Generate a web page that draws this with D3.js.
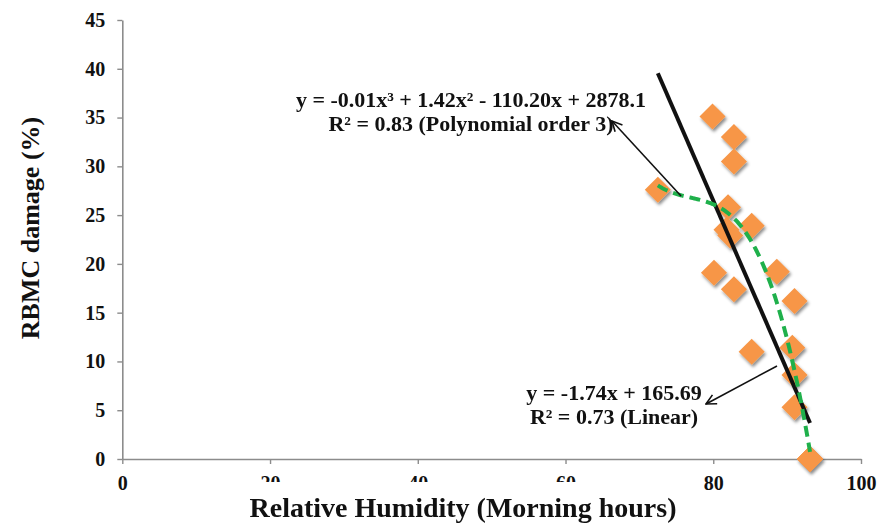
<!DOCTYPE html>
<html lang="en">
<head>
<meta charset="utf-8">
<title>RBMC damage vs RH</title>
<script src="https://cdn.jsdelivr.net/npm/d3@7"></script>
<style>
  body { margin: 0; background: #fff; overflow: hidden; }
  text { font-family: "Liberation Serif", "Times New Roman", serif; font-weight: bold; fill: #111; }
</style>
</head>
<body>
<div id="chart"></div>
<script>
// relative humidity (morning hours) and RBMC damage (%)
// (several zero-damage readings sit on top of each other at ~93 %)
var humidity = [72.5, 79.9, 82.8, 82.8, 82.0, 81.8, 82.3, 85.2, 80.1, 82.8, 88.6, 91.0, 85.2, 90.7, 91.0, 91.0, 93.1, 93.1, 93.1, 93.1];
var damage   = [27.6, 35.1, 33.0, 30.5, 25.8, 23.5, 22.9, 23.9, 19.1, 17.4, 19.2, 16.2, 11.0, 11.4,  8.6,  5.3,  0.0,  0.0,  0.0,  0.0];

var xTicks = [0, 20, 40, 60, 80, 100];
var yTicks = [0, 5, 10, 15, 20, 25, 30, 35, 40, 45];
var hiddenXTicks = [20, 40, 60];   // these labels are cut off in the original

var linSlope = -1.74, linIntercept = 165.69;
var polyLabel = ["y = -0.01x\u00B3 + 1.42x\u00B2 - 110.20x + 2878.1", "R\u00B2 = 0.83 (Polynomial order 3)"];
var linLabel  = ["y = -1.74x + 165.69", "R\u00B2 = 0.73 (Linear)"];

var W = 881, H = 528;
var svg = d3.select("#chart").append("svg")
    .attr("width", W)
    .attr("height", H);

var defs = svg.append("defs");
var f = defs.append("filter").attr("id", "shadow")
    .attr("x", "-50%").attr("y", "-50%").attr("width", "200%").attr("height", "200%");
f.append("feDropShadow")
    .attr("dx", 1.5).attr("dy", 2.5).attr("stdDeviation", 1.6)
    .attr("flood-color", "#000").attr("flood-opacity", 0.45);

defs.append("marker")
    .attr("id", "arrow")
    .attr("viewBox", "0 0 12 12")
    .attr("refX", 11).attr("refY", 6)
    .attr("markerWidth", 12).attr("markerHeight", 12)
    .attr("markerUnits", "userSpaceOnUse")
    .attr("orient", "auto")
  .append("path")
    .attr("d", "M1,1 L11,6 L1,11")
    .attr("fill", "none")
    .attr("stroke", "#111")
    .attr("stroke-width", 1.6);

var x = d3.scaleLinear().domain([0, 100]).range([122.3, 861]);
var y = d3.scaleLinear().domain([0, 45]).range([459, 20]);

defs.append("clipPath").attr("id", "cutlocal")
  .append("rect").attr("x", -40).attr("y", 0).attr("width", 80).attr("height", 482 - y(0));

// axes
var xAxis = svg.append("g")
    .attr("transform", "translate(0," + y(0) + ")")
    .call(d3.axisBottom(x).tickValues(xTicks).tickSize(5).tickPadding(12).tickSizeOuter(0));
var yAxis = svg.append("g")
    .attr("transform", "translate(" + x(0) + ",0)")
    .call(d3.axisLeft(y).tickValues(yTicks).tickSize(5).tickPadding(12).tickSizeOuter(0));

[xAxis, yAxis].forEach(function(a) {
  a.select(".domain").attr("stroke", "#8c8c8c").attr("stroke-width", 1.6);
  a.selectAll(".tick line").attr("stroke", "#8c8c8c").attr("stroke-width", 1.4);
  a.selectAll(".tick text")
    .attr("font-family", "Liberation Serif, Times New Roman, serif")
    .attr("font-weight", "bold")
    .attr("font-size", 20)
    .attr("fill", "#111");
});
xAxis.selectAll(".tick")
  .filter(function(d) { return hiddenXTicks.indexOf(d) >= 0; })
  .select("text")
  .each(function() {
    var g = d3.select(this.parentNode).append("g").attr("clip-path", "url(#cutlocal)");
    g.node().appendChild(this);
  });

// points
var pts = humidity.map(function(h, i) { return { x: h, y: damage[i] }; });
svg.append("g").attr("filter", "url(#shadow)")
  .selectAll("path")
  .data(pts)
  .enter().append("path")
    .attr("d", d3.symbol().type(d3.symbolSquare).size(340))
    .attr("transform", function(d) { return "translate(" + x(d.x) + "," + y(d.y) + ") rotate(45)"; })
    .attr("fill", "#f79646");

// cubic least squares fit
function polyFit(xs, ys, order) {
  var n = order + 1, A = [], b = [];
  for (var i = 0; i < n; i++) {
    A.push([]);
    for (var j = 0; j < n; j++) A[i].push(d3.sum(xs, function(v) { return Math.pow(v, i + j); }));
    b.push(d3.sum(xs, function(v, k) { return Math.pow(v, i) * ys[k]; }));
  }
  for (var c = 0; c < n; c++) {
    var p = c;
    for (var r = c + 1; r < n; r++) if (Math.abs(A[r][c]) > Math.abs(A[p][c])) p = r;
    var tmp = A[c]; A[c] = A[p]; A[p] = tmp;
    var tb = b[c]; b[c] = b[p]; b[p] = tb;
    for (var r2 = c + 1; r2 < n; r2++) {
      var m = A[r2][c] / A[c][c];
      for (var k = c; k < n; k++) A[r2][k] -= m * A[c][k];
      b[r2] -= m * b[c];
    }
  }
  var coef = new Array(n);
  for (var r3 = n - 1; r3 >= 0; r3--) {
    var s = b[r3];
    for (var k2 = r3 + 1; k2 < n; k2++) s -= A[r3][k2] * coef[k2];
    coef[r3] = s / A[r3][r3];
  }
  return coef;
}
var xm = d3.mean(humidity);
var coef = polyFit(humidity.map(function(v) { return v - xm; }), damage, 3);
var xmin = d3.min(humidity), xmax = d3.max(humidity);
var curve = d3.range(0, 101).map(function(i) {
  var xv = xmin + (xmax - xmin) * i / 100, u = xv - xm;
  return { x: xv, y: coef[0] + coef[1] * u + coef[2] * u * u + coef[3] * u * u * u };
});

// linear trendline
svg.append("line")
    .attr("x1", x(xmin)).attr("y1", y(linSlope * xmin + linIntercept))
    .attr("x2", x(xmax)).attr("y2", y(linSlope * xmax + linIntercept))
    .attr("stroke", "#111")
    .attr("stroke-width", 4);

svg.append("path")
    .datum(curve)
    .attr("d", d3.line().x(function(d) { return x(d.x); }).y(function(d) { return y(d.y); }))
    .attr("fill", "none")
    .attr("stroke", "#1fb04b")
    .attr("stroke-width", 4)
    .attr("stroke-dasharray", "11,6");

// equation labels
function label(lines, cx, y0) {
  var t = svg.append("text").attr("text-anchor", "middle").attr("font-size", 22);
  lines.forEach(function(s, i) {
    t.append("tspan").attr("x", cx).attr("y", y0 + i * 24).text(s);
  });
}
label(polyLabel, 471, 107);
label(linLabel, 614, 400);

// arrows pointing to labels
svg.append("line")
    .attr("x1", 681).attr("y1", 196).attr("x2", 612).attr("y2", 121)
    .attr("stroke", "#111").attr("stroke-width", 1.6)
    .attr("marker-end", "url(#arrow)");
svg.append("line")
    .attr("x1", 777).attr("y1", 366).attr("x2", 706).attr("y2", 404)
    .attr("stroke", "#111").attr("stroke-width", 1.6)
    .attr("marker-end", "url(#arrow)");

// axis titles
svg.append("text")
    .attr("x", 463).attr("y", 517)
    .attr("text-anchor", "middle")
    .attr("font-size", 28)
    .text("Relative Humidity (Morning hours)");
svg.append("text")
    .attr("transform", "translate(39,228) rotate(-90)")
    .attr("text-anchor", "middle")
    .attr("font-size", 26)
    .text("RBMC damage (%)");
</script>
</body>
</html>
